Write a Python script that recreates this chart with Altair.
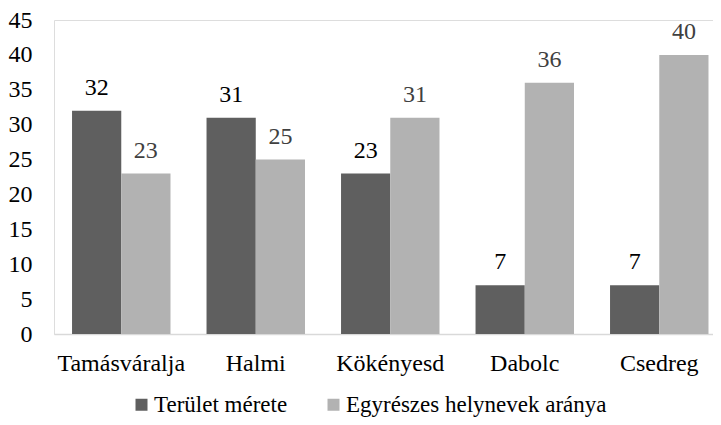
import altair as alt
import pandas as pd

categories = ["Tamásváralja", "Halmi", "Kökényesd", "Dabolc", "Csedreg"]
series_names = ["Terület mérete", "Egyrészes helynevek aránya"]
terulet = [32, 31, 23, 7, 7]
egyreszes = [23, 25, 31, 36, 40]
y_ticks = [0, 5, 10, 15, 20, 25, 30, 35, 40, 45]

rows = []
for i, c in enumerate(categories):
    rows.append({"cat": c, "series": series_names[0], "value": terulet[i]})
    rows.append({"cat": c, "series": series_names[1], "value": egyreszes[i]})
df = pd.DataFrame(rows)

FONT = "Liberation Serif"

x = alt.X(
    "cat:N", sort=categories, title=None,
    scale=alt.Scale(paddingInner=0.268, paddingOuter=0.0838, align=0.8),
    axis=alt.Axis(labelAngle=0, ticks=False, tickSize=0, domainColor="#d9d9d9",
                  domainWidth=1.5, labelPadding=17, labelFontSize=24, labelFont=FONT,
                  labelColor="#000000", labelLimit=400),
)
xoff = alt.XOffset("series:N", sort=series_names,
                   scale=alt.Scale(paddingInner=0, paddingOuter=0))
y = alt.Y(
    "value:Q", title=None,
    scale=alt.Scale(domain=[0, 45], nice=False),
    axis=alt.Axis(values=y_ticks, grid=False, domain=False, ticks=False, tickSize=0,
                  labelPadding=22, labelFontSize=24, labelFont=FONT, labelColor="#000000"),
)

color = alt.Color(
    "series:N", sort=series_names,
    scale=alt.Scale(domain=series_names, range=["#5f5f5f", "#b2b2b2"]),
    legend=alt.Legend(orient="none", legendX=76, legendY=373, direction="horizontal",
                      title=None, symbolType="square", symbolSize=144, symbolStrokeWidth=0,
                      symbolOpacity=1, labelFontSize=23, labelFont=FONT, labelColor="#000000",
                      columnPadding=34, labelOffset=1, labelLimit=400, padding=0),
)

bars = alt.Chart(df).mark_bar().encode(x=x, xOffset=xoff, y=y, color=color)

labels = alt.Chart(df).mark_text(
    baseline="alphabetic", dy=-16, fontSize=24, font=FONT
).encode(
    x=x, xOffset=xoff, y=y,
    text=alt.Text("value:Q"),
    color=alt.condition(alt.datum.series == series_names[0],
                        alt.value("#000000"), alt.value("#404040")),
)

chart = alt.layer(bars, labels).properties(
    width=659, height=314, padding=0
).configure_view(stroke=None).configure(background="#ffffff", font=FONT)

chart.save("out.html", embed_options={"renderer": "svg", "actions": False})
